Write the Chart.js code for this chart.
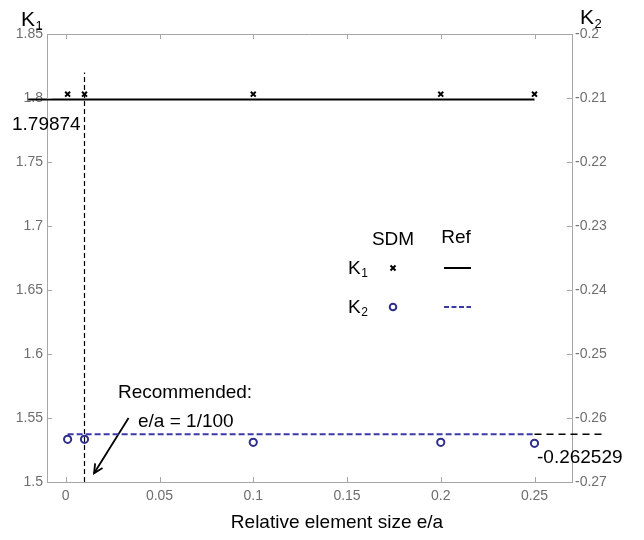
<!DOCTYPE html>
<html lang="en">
<head>
<meta charset="UTF-8">
<title>K1 / K2 vs relative element size</title>
<script src="https://cdn.jsdelivr.net/npm/chart.js"></script>
<style>
  html, body { margin: 0; padding: 0; background: #fff; }
  #wrap { width: 644px; height: 540px; position: relative; }
</style>
</head>
<body>
<div id="wrap"><canvas id="chart"></canvas></div>
<script>
// --- DATA ---
const elementSizes = [0.001, 0.01, 0.1, 0.2, 0.25];
const k1Sdm = [1.803, 1.803, 1.803, 1.803, 1.803];
const k2Sdm = [-0.26333, -0.26333, -0.2638, -0.2638, -0.26395];
const k1Ref = 1.79874;
const k2Ref = -0.262529;
const k1RefX = [-0.02, 0.25];
const k2RefX = [0.001, 0.25];
const k2RefExtX = [0.25, 0.288];
const recommendedSize = 0.01;
const recommendedY = [1.5, 1.82];
const arrowPts = [[0.0335, 1.550], [0.0151, 1.5068]];
const xTicks = [0, 0.05, 0.1, 0.15, 0.2, 0.25];
const k1Ticks = [1.5, 1.55, 1.6, 1.65, 1.7, 1.75, 1.8, 1.85];
const k2Ticks = [-0.27, -0.26, -0.25, -0.24, -0.23, -0.22, -0.21, -0.2];

const FONT = "'Liberation Sans', Arial, sans-serif";
const AXIS = '#a6a6a6';
const TICKTXT = '#6e6e6e';
const BLUE = '#2e2e8c';
const BLUE_LINE = '#3b3ba6';

const pts = (xs, ys) => xs.map((x, i) => ({ x: x, y: Array.isArray(ys) ? ys[i] : ys }));

function fmt(v) { return String(+v.toFixed(2)); }

function setTicks(list) {
  return scale => { scale.ticks = list.map(v => ({ value: v })); };
}

// K with subscript
function drawK(ctx, x, baseline, sub, size) {
  ctx.font = size + 'px ' + FONT;
  ctx.textAlign = 'left';
  ctx.textBaseline = 'alphabetic';
  ctx.fillText('K', x, baseline);
  const w = ctx.measureText('K').width;
  ctx.font = Math.round(size * 0.62) + 'px ' + FONT;
  ctx.fillText(sub, x + w + 0.5, baseline + size * 0.18);
}

const decorations = {
  id: 'decorations',
  afterDraw(chart) {
    const ctx = chart.ctx;
    const { left, right, top, bottom } = chart.chartArea;
    const sx = chart.scales.x, sy = chart.scales.y, sy2 = chart.scales.y2;
    ctx.save();

    // top border of the box
    ctx.strokeStyle = AXIS;
    ctx.lineWidth = 1;
    ctx.beginPath();
    ctx.moveTo(left, top + 0.5);
    ctx.lineTo(right, top + 0.5);
    ctx.stroke();

    // inward tick marks
    const tl = 5;
    ctx.beginPath();
    sx.ticks.forEach(t => {
      const px = Math.round(sx.getPixelForValue(t.value)) + 0.5;
      ctx.moveTo(px, bottom); ctx.lineTo(px, bottom - tl);
      ctx.moveTo(px, top); ctx.lineTo(px, top + tl);
    });
    sy.ticks.forEach(t => {
      const py = Math.round(sy.getPixelForValue(t.value)) + 0.5;
      ctx.moveTo(left, py); ctx.lineTo(left + tl, py);
    });
    sy2.ticks.forEach(t => {
      const py = Math.round(sy2.getPixelForValue(t.value)) + 0.5;
      ctx.moveTo(right, py); ctx.lineTo(right - tl, py);
    });
    ctx.stroke();

    // arrow head
    const meta = chart.getDatasetMeta(6).data;
    const p0 = meta[0], p1 = meta[1];
    const ang = Math.atan2(p1.y - p0.y, p1.x - p0.x);
    ctx.strokeStyle = '#000';
    ctx.lineWidth = 1.8;
    ctx.beginPath();
    ctx.moveTo(p1.x - 10 * Math.cos(ang - 0.45), p1.y - 10 * Math.sin(ang - 0.45));
    ctx.lineTo(p1.x, p1.y);
    ctx.lineTo(p1.x - 10 * Math.cos(ang + 0.45), p1.y - 10 * Math.sin(ang + 0.45));
    ctx.stroke();

    // annotation texts
    ctx.fillStyle = '#000';
    ctx.font = '19px ' + FONT;
    ctx.textBaseline = 'middle';
    ctx.textAlign = 'left';
    const k1RefPx = sy.getPixelForValue(k1Ref);
    ctx.fillText('1.79874', 12, k1RefPx + 25);
    const k2RefPx = sy2.getPixelForValue(k2Ref);
    ctx.fillText('-0.262529', 537, k2RefPx + 24);
    ctx.fillText('Recommended:', 118, 393);
    ctx.fillText('e/a = 1/100', 138, 422);

    // axis titles
    drawK(ctx, 21, 26, '1', 21);
    drawK(ctx, 580, 24, '2', 21);
    ctx.font = '19px ' + FONT;
    ctx.textAlign = 'center';
    ctx.textBaseline = 'middle';
    ctx.fillText('Relative element size e/a', 337, 523);

    // legend
    ctx.font = '19px ' + FONT;
    ctx.fillText('SDM', 393, 240);
    ctx.fillText('Ref', 456, 238);
    drawK(ctx, 348, 274, '1', 19);
    drawK(ctx, 348, 313, '2', 19);
    // cross
    ctx.strokeStyle = '#000';
    ctx.lineWidth = 2;
    ctx.beginPath();
    ctx.moveTo(390.5, 265.5); ctx.lineTo(395.5, 270.5);
    ctx.moveTo(395.5, 265.5); ctx.lineTo(390.5, 270.5);
    ctx.stroke();
    ctx.beginPath();
    ctx.moveTo(444, 268); ctx.lineTo(471, 268);
    ctx.stroke();
    // circle
    ctx.strokeStyle = BLUE;
    ctx.lineWidth = 2;
    ctx.beginPath();
    ctx.arc(393, 307, 3.3, 0, Math.PI * 2);
    ctx.stroke();
    ctx.strokeStyle = BLUE_LINE;
    ctx.lineWidth = 2;
    ctx.setLineDash([5, 2.5]);
    ctx.beginPath();
    ctx.moveTo(444, 307); ctx.lineTo(471, 307);
    ctx.stroke();
    ctx.restore();
  }
};

new Chart(document.getElementById('chart'), {
  type: 'scatter',
  data: {
    datasets: [
      { // 0 K1 SDM
        data: pts(elementSizes, k1Sdm), yAxisID: 'y',
        pointStyle: 'crossRot', pointRadius: 3.5, borderColor: '#000', borderWidth: 2,
        showLine: false
      },
      { // 1 K1 Ref
        data: pts(k1RefX, k1Ref), yAxisID: 'y', showLine: true,
        borderColor: '#000', borderWidth: 2, pointRadius: 0, clip: false
      },
      { // 2 K2 SDM
        data: pts(elementSizes, k2Sdm), yAxisID: 'y2',
        pointStyle: 'circle', pointRadius: 3.6, borderColor: BLUE, borderWidth: 2,
        backgroundColor: 'rgba(0,0,0,0)', showLine: false
      },
      { // 3 K2 Ref
        data: pts(k2RefX, k2Ref), yAxisID: 'y2', showLine: true,
        borderColor: BLUE_LINE, borderWidth: 2, borderDash: [6, 3], pointRadius: 0
      },
      { // 4 K2 Ref extension
        data: pts(k2RefExtX, k2Ref), yAxisID: 'y2', showLine: true,
        borderColor: '#000', borderWidth: 1.6, borderDash: [7, 5], pointRadius: 0, clip: false
      },
      { // 5 recommended size
        data: pts([recommendedSize, recommendedSize], recommendedY), yAxisID: 'y', showLine: true,
        borderColor: '#000', borderWidth: 1.2, borderDash: [5, 3], pointRadius: 0
      },
      { // 6 arrow shaft
        data: arrowPts.map(p => ({ x: p[0], y: p[1] })), yAxisID: 'y', showLine: true,
        borderColor: '#000', borderWidth: 1.8, pointRadius: 0
      }
    ]
  },
  options: {
    responsive: true,
    maintainAspectRatio: false,
    animation: false,
    events: [],
    layout: { padding: { top: 34, left: 0, right: 0, bottom: 0 } },
    plugins: { legend: { display: false }, tooltip: { enabled: false } },
    scales: {
      x: {
        type: 'linear', position: 'bottom', min: -0.01, max: 0.27,
        afterBuildTicks: setTicks(xTicks),
        afterFit: s => { s.height = 58; },
        grid: { display: false, drawTicks: false },
        border: { display: true, color: AXIS, width: 1 },
        ticks: { padding: 6, color: TICKTXT, font: { family: FONT, size: 14 }, callback: v => fmt(v), maxRotation: 0 }
      },
      y: {
        type: 'linear', position: 'left', min: 1.5, max: 1.85,
        afterBuildTicks: setTicks(k1Ticks),
        afterFit: s => { s.width = 47; },
        grid: { display: false, drawTicks: false },
        border: { display: true, color: AXIS, width: 1 },
        ticks: { padding: 4, color: TICKTXT, font: { family: FONT, size: 14 }, callback: v => fmt(v) }
      },
      y2: {
        type: 'linear', position: 'right', min: -0.27, max: -0.2,
        afterBuildTicks: setTicks(k2Ticks),
        afterFit: s => { s.width = 72; },
        grid: { display: false, drawTicks: false },
        border: { display: true, color: AXIS, width: 1 },
        ticks: { padding: 3, color: TICKTXT, font: { family: FONT, size: 14 }, callback: v => fmt(v) }
      }
    }
  },
  plugins: [decorations]
});
</script>
</body>
</html>
